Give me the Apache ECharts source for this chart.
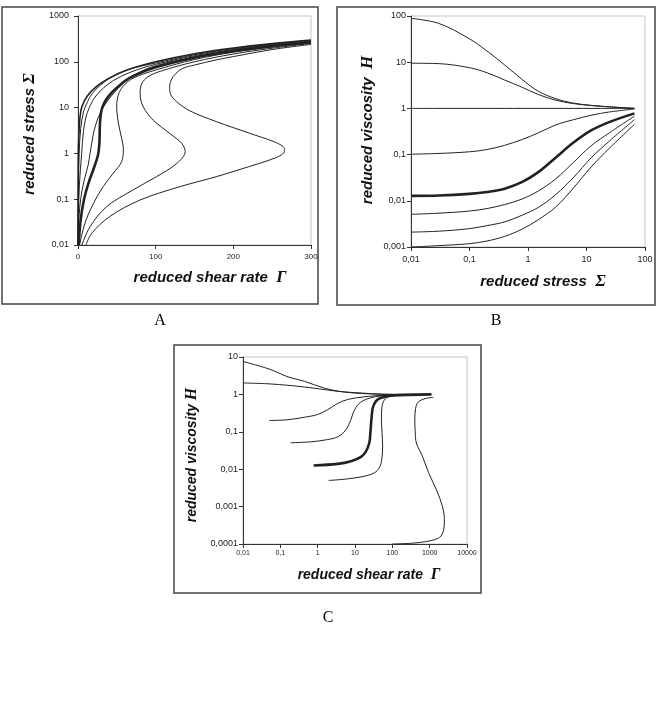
<!DOCTYPE html>
<html>
<head>
<meta charset="utf-8">
<script src="https://cdn.jsdelivr.net/npm/echarts@6/dist/echarts.min.js"></script>
<style>
  html, body { margin: 0; padding: 0; background: #fff; }
  #chart { width: 659px; height: 713px; }
</style>
</head>
<body>
<div id="chart"></div>
<script>
// panel A : [reduced shear rate, reduced stress]
const curveA1 = [[0.02,0.01],[0.1,0.1],[0.4,1],[1,2.3],[2.6,6.3],[5,10.5],[12,18],[24,29],[39,43],[63,66],[100,100],[150,150],[200,200],[250,250],[300,300]];
const curveA2 = [[0.05,0.01],[0.5,0.1],[1.5,1],[3.5,3.5],[7,8],[11,12],[18,20],[29,31],[45,48],[70,72],[100,94],[150,143],[200,193],[250,243],[300,292]];
const curveA3 = [[0.05,0.01],[0.6,0.05],[1.8,0.2],[4.7,1],[7,3],[10,6],[14.6,10],[22,17],[33,27],[50,43],[75,66],[100,88],[150,136],[200,186],[250,236],[300,284]];
const curveA4 = [[0.2,0.01],[1.3,0.04],[3.4,0.1],[7.7,0.25],[13,0.55],[15.5,1],[18,1.8],[21,3.3],[26,6],[33,10.5],[43,18],[60,36],[80,60],[100,82],[150,130],[200,178],[250,228],[300,276]];
const curveA5 = [[0.86,0.01],[3.4,0.035],[7.7,0.098],[13.3,0.22],[19.7,0.44],[24,0.72],[26.2,1],[27.5,1.66],[27.9,2.75],[28.3,4.6],[29.6,7.6],[32.6,11.5],[39,17.4],[50,27],[67,45],[100,76],[150,123],[200,172],[250,220],[300,268]];
const curveA6 = [[2,0.01],[9,0.03],[19.7,0.08],[32.6,0.19],[45.5,0.37],[56.2,0.66],[58.4,1.25],[56.2,2.14],[52,4.6],[49.8,10.5],[52,19],[58,29],[71,44],[100,66],[150,112],[200,162],[250,210],[300,260]];
const curveA7 = [[5,0.01],[15.5,0.025],[37,0.069],[71,0.16],[101,0.31],[127,0.6],[138,1.1],[133.5,1.66],[118.5,2.7],[97,5.3],[84,10.4],[80,20],[82,33],[90,47],[106,62],[150,100],[200,148],[250,198],[300,252]];
const curveA8 = [[10.3,0.01],[17.6,0.018],[41,0.042],[80,0.096],[131,0.187],[178,0.31],[221,0.52],[247,0.72],[262,0.93],[266,1.15],[264,1.41],[252,1.81],[221,2.75],[178,4.96],[144,8.5],[127,13.5],[119,20],[118,28],[120,40],[126,56],[135,72],[150,85],[178,110],[200,130],[250,185],[300,240]];

// panel B : reduced viscosity against reduced stress
const stressB = [0.01, 0.03, 0.1, 0.2, 0.4, 0.8, 1.5, 3, 6, 12, 25, 66];
const etaB1 = [89, 69, 32, 17.4, 8.7, 4.2, 2.35, 1.62, 1.3, 1.16, 1.08, 1.0];
const etaB2 = [9.5, 9.3, 7.6, 5.9, 4.1, 2.85, 2.0, 1.5, 1.27, 1.16, 1.08, 1.0];
const etaB3 = [1, 1, 1, 1, 1, 1, 1, 1, 1, 1, 1, 1];
const etaB4 = [0.102, 0.106, 0.115, 0.129, 0.159, 0.213, 0.295, 0.44, 0.57, 0.71, 0.84, 0.97];
const etaB5 = [0.0128, 0.013, 0.0141, 0.0155, 0.0183, 0.0256, 0.0417, 0.087, 0.182, 0.333, 0.51, 0.78];
const etaB6 = [0.0051, 0.0054, 0.006, 0.0068, 0.0083, 0.011, 0.0163, 0.03, 0.068, 0.155, 0.3, 0.68];
const etaB7 = [0.0021, 0.0022, 0.0025, 0.0029, 0.0035, 0.0049, 0.0072, 0.0137, 0.032, 0.085, 0.2, 0.57];
const etaB8 = [0.001, 0.00107, 0.00118, 0.00135, 0.0017, 0.00245, 0.0039, 0.0074, 0.019, 0.054, 0.14, 0.45];

// panel C : [reduced shear rate, reduced viscosity]
const curveC1 = [[0.01,7.6],[0.056,4.6],[0.15,3.0],[0.44,2.24],[1.5,1.48],[5,1.16],[27,1.03],[110,1.0],[1100,1.0]];
const curveC2 = [[0.01,2.02],[0.056,1.9],[0.44,1.58],[3.5,1.21],[27,1.05],[110,1.0],[1100,1.0]];
const curveC3 = [[0.051,0.2],[0.157,0.21],[0.44,0.245],[1,0.29],[1.85,0.39],[3.4,0.57],[6.3,0.73],[14.5,0.84],[41,0.93],[112,0.97],[1100,1.0]];
const curveC4 = [[0.19,0.051],[0.66,0.054],[1.85,0.062],[3.5,0.074],[5.6,0.11],[7.6,0.2],[9.3,0.35],[12.6,0.56],[20,0.74],[35,0.87],[80,0.95],[1100,1.0]];
const curveC5 = [[0.78,0.0126],[3.4,0.0139],[7.8,0.0164],[14.5,0.0214],[19.7,0.03],[24.2,0.051],[25.8,0.094],[27,0.17],[28,0.26],[30,0.44],[36.5,0.66],[50,0.81],[92,0.93],[1100,1.0]];
const curveC6 = [[1.97,0.005],[6.3,0.0055],[17.8,0.0065],[33,0.008],[45,0.011],[52,0.018],[55,0.041],[53,0.094],[51,0.21],[52,0.4],[58,0.65],[75,0.85],[120,0.95],[1100,1.0]];
const curveC7 = [[1250,0.83],[750,0.77],[490,0.62],[420,0.42],[400,0.21],[410,0.1],[440,0.05],[620,0.024],[940,0.008],[1570,0.0026],[2200,0.001],[2480,0.00045],[2370,0.00024],[1840,0.00015],[950,0.00012],[330,0.000105],[100,0.0001]];

const chart = echarts.init(document.getElementById('chart'));

const sansFont = '"Liberation Sans", Arial, sans-serif';
const serifFont = '"Liberation Serif", "Times New Roman", serif';
const inkColor = '#222';

// 0.01 -> "0,01"
const commaLabel = v => String(+(+v).toPrecision(4)).replace('.', ',');

const makeLine = (idx, data, width) => ({
  type: 'line',
  xAxisIndex: idx,
  yAxisIndex: idx,
  data: data,
  showSymbol: false,
  smooth: 0.35,
  lineStyle: { color: inkColor, width: width || 1 },
  silent: true,
  animation: false
});

const axisBase = (gridIndex, fontSize, margin) => ({
  gridIndex: gridIndex,
  axisLine: { lineStyle: { color: '#333', width: 1 } },
  axisTick: { show: true, length: 4, lineStyle: { color: '#333' } },
  axisLabel: { color: '#222', fontSize: fontSize, fontFamily: sansFont, margin: margin, formatter: commaLabel },
  splitLine: { show: false }
});

const titleText = (x, y, text, size, rotate) => ({
  type: 'text',
  x: x,
  y: y,
  rotation: rotate ? Math.PI / 2 : 0,
  style: {
    text: text,
    fill: '#111',
    fontFamily: sansFont,
    fontSize: size,
    fontStyle: 'italic',
    fontWeight: 'bold',
    align: 'center',
    verticalAlign: 'middle',
    rich: {
      g: { fontFamily: serifFont, fontStyle: 'italic', fontWeight: 'bold', fontSize: size + 2, fill: '#111' }
    }
  }
});

const panelBox = (x, y, w, h) => ({
  type: 'rect',
  shape: { x: x, y: y, width: w, height: h },
  style: { fill: 'none', stroke: '#444', lineWidth: 1.5 },
  silent: true
});

const letter = (x, y, t) => ({
  type: 'text', x: x, y: y,
  style: { text: t, fill: '#000', fontFamily: serifFont, fontSize: 16, align: 'center', verticalAlign: 'middle' }
});

const gridFrame = { show: true, borderColor: '#c4c4c4', borderWidth: 1, backgroundColor: 'transparent' };

const option = {
  backgroundColor: '#fff',
  animation: false,
  grid: [
    Object.assign({ left: 78, top: 16, width: 233, height: 229 }, gridFrame),
    Object.assign({ left: 411, top: 16, width: 234, height: 231 }, gridFrame),
    Object.assign({ left: 243, top: 357, width: 224, height: 187 }, gridFrame)
  ],
  xAxis: [
    Object.assign(axisBase(0, 8, 8), { type: 'value', min: 0, max: 300, interval: 100 }),
    Object.assign(axisBase(1, 9, 8), { type: 'log', logBase: 10, min: 0.01, max: 100 }),
    Object.assign(axisBase(2, 7, 6), { type: 'log', logBase: 10, min: 0.01, max: 10000 })
  ],
  yAxis: [
    Object.assign(axisBase(0, 9, 9), { type: 'log', logBase: 10, min: 0.01, max: 1000 }),
    Object.assign(axisBase(1, 9, 5), { type: 'log', logBase: 10, min: 0.001, max: 100 }),
    Object.assign(axisBase(2, 9, 5), { type: 'log', logBase: 10, min: 0.0001, max: 10 })
  ],
  series: [
    makeLine(0, curveA1, 1.6),
    makeLine(0, curveA2),
    makeLine(0, curveA3),
    makeLine(0, curveA4),
    makeLine(0, curveA5, 2.6),
    makeLine(0, curveA6),
    makeLine(0, curveA7),
    makeLine(0, curveA8),
    makeLine(1, stressB.map((s, i) => [s, etaB1[i]])),
    makeLine(1, stressB.map((s, i) => [s, etaB2[i]])),
    makeLine(1, stressB.map((s, i) => [s, etaB3[i]])),
    makeLine(1, stressB.map((s, i) => [s, etaB4[i]])),
    makeLine(1, stressB.map((s, i) => [s, etaB5[i]]), 2.6),
    makeLine(1, stressB.map((s, i) => [s, etaB6[i]])),
    makeLine(1, stressB.map((s, i) => [s, etaB7[i]])),
    makeLine(1, stressB.map((s, i) => [s, etaB8[i]])),
    makeLine(2, curveC1),
    makeLine(2, curveC2),
    makeLine(2, curveC3),
    makeLine(2, curveC4),
    makeLine(2, curveC5, 2.6),
    makeLine(2, curveC6),
    makeLine(2, curveC7)
  ],
  graphic: [
    panelBox(2, 7, 316, 297),
    panelBox(337, 7, 318, 298),
    panelBox(174, 345, 307, 248),
    titleText(210, 278, 'reduced shear rate  {g|Γ}', 15, false),
    titleText(30, 134, 'reduced stress {g|Σ}', 15, true),
    titleText(543, 282, 'reduced stress  {g|Σ}', 15, false),
    titleText(368, 130, 'reduced viscosity  {g|H}', 15, true),
    titleText(369, 575, 'reduced shear rate  {g|Γ}', 14, false),
    titleText(192, 455, 'reduced viscosity {g|H}', 14, true),
    letter(160, 321, 'A'),
    letter(496, 321, 'B'),
    letter(328, 618, 'C')
  ]
};

chart.setOption(option);
</script>
</body>
</html>
